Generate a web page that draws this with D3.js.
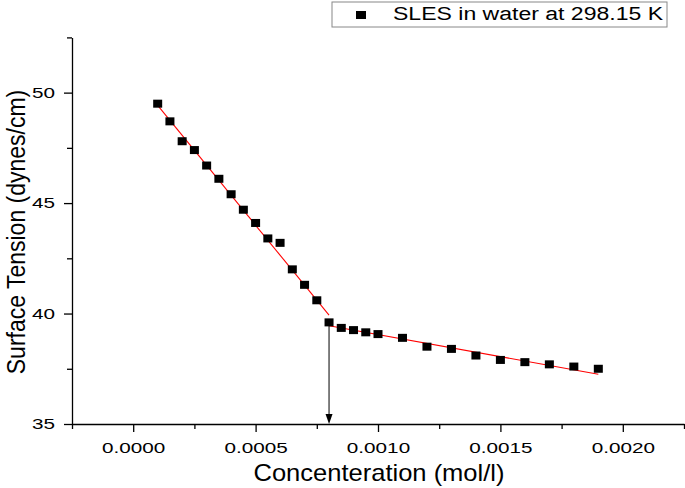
<!DOCTYPE html>
<html>
<head>
<meta charset="utf-8">
<script src="https://cdn.jsdelivr.net/npm/d3@7"></script>
<style>
  body { margin: 0; background: #fff; }
  text { font-family: "Liberation Sans", Arial, sans-serif; fill: #000; }
</style>
</head>
<body>
<div id="chart"></div>
<script>
// concentration (mol/l) and surface tension (dynes/cm)
var conc = [0.0001, 0.00015, 0.0002, 0.00025, 0.0003, 0.00035, 0.0004, 0.00045, 0.0005, 0.00055,
            0.0006, 0.00065, 0.0007, 0.00075, 0.0008, 0.00085, 0.0009, 0.00095, 0.001, 0.0011,
            0.0012, 0.0013, 0.0014, 0.0015, 0.0016, 0.0017, 0.0018, 0.0019];
var tension = [49.5, 48.7, 47.8, 47.4, 46.7, 46.1, 45.4, 44.7, 44.1, 43.4,
               43.2, 42.0, 41.3, 40.6, 39.6, 39.35, 39.25, 39.15, 39.07, 38.9,
               38.5, 38.4, 38.1, 37.9, 37.8, 37.7, 37.6, 37.5];

// the two red fit lines, end points
var fitBelowCmc = [[0.0001, 49.42], [0.0008, 39.93]];
var fitAboveCmc = [[0.0008, 39.45], [0.0019, 37.25]];
var cmc = 0.0008;

var xTicks = [0, 0.0005, 0.001, 0.0015, 0.002];
var xMinor = [-0.00025, 0.00025, 0.00075, 0.00125, 0.00175, 0.00225];
var yTicks = [35, 40, 45, 50];
var yMinor = [37.5, 42.5, 47.5, 52.5];

var seriesName = "SLES in water at 298.15 K";

var width = 685, height = 488;

var svg = d3.select("#chart").append("svg")
    .attr("width", width)
    .attr("height", height);

var x = d3.scaleLinear().domain([-0.00025, 0.00225]).range([72, 684]);
var y = d3.scaleLinear().domain([35, 52.5]).range([424, 37.4]);

var tickStretch = 1.38;

// minor ticks first
svg.append("g")
    .attr("transform", "translate(0," + y(35) + ")")
    .call(d3.axisBottom(x).tickValues(xMinor).tickSize(5).tickSizeOuter(0).tickFormat(""))
    .call(g => g.select(".domain").remove());

svg.append("g")
    .attr("transform", "translate(" + x(-0.00025) + ",0)")
    .call(d3.axisLeft(y).tickValues(yMinor).tickSize(5).tickSizeOuter(0).tickFormat(""))
    .call(g => g.select(".domain").remove());

var xAxis = svg.append("g")
    .attr("transform", "translate(0," + y(35) + ")")
    .call(d3.axisBottom(x).tickValues(xTicks).tickSize(8).tickSizeOuter(0)
        .tickPadding(10).tickFormat(d3.format(".4f")));
xAxis.selectAll("text")
    .attr("font-size", 15)
    .attr("font-family", "Liberation Sans, Arial, sans-serif")
    .attr("transform", "scale(" + tickStretch + ",1)");

var yAxis = svg.append("g")
    .attr("transform", "translate(" + x(-0.00025) + ",0)")
    .call(d3.axisLeft(y).tickValues(yTicks).tickSize(8).tickSizeOuter(0));
yAxis.selectAll("text")
    .attr("font-size", 15)
    .attr("font-family", "Liberation Sans, Arial, sans-serif")
    .attr("x", -17 / tickStretch)
    .attr("transform", "scale(" + tickStretch + ",1)");

svg.selectAll(".domain, .tick line").attr("stroke", "#000").attr("stroke-width", 1.3);

// axis titles
svg.append("text")
    .attr("transform", "translate(379,481) scale(1.11,1)")
    .attr("text-anchor", "middle")
    .attr("font-size", 23)
    .text("Concenteration (mol/l)");

svg.append("text")
    .attr("transform", "translate(25,232) scale(1.11,1) rotate(-90)")
    .attr("text-anchor", "middle")
    .attr("font-size", 23)
    .text("Surface Tension (dynes/cm)");

// fit lines
var line = d3.line().x(d => x(d[0])).y(d => y(d[1]));
[fitBelowCmc, fitAboveCmc].forEach(function(seg) {
    svg.append("path")
        .datum(seg)
        .attr("d", line)
        .attr("fill", "none")
        .attr("stroke", "#ff0000")
        .attr("stroke-width", 1.1);
});

// arrow down to the cmc
var ax = x(cmc);
svg.append("line")
    .attr("x1", ax).attr("x2", ax)
    .attr("y1", y(fitAboveCmc[0][1])).attr("y2", y(35) - 9)
    .attr("stroke", "#000").attr("stroke-width", 1);
svg.append("path")
    .attr("d", "M" + (ax - 3.5) + "," + (y(35) - 10) + "L" + (ax + 3.5) + "," + (y(35) - 10) + "L" + ax + "," + y(35) + "Z")
    .attr("fill", "#000");

// data points
svg.selectAll(".pt")
    .data(conc.map((c, i) => [c, tension[i]]))
    .enter().append("rect")
    .attr("class", "pt")
    .attr("x", d => x(d[0]) - 4.5)
    .attr("y", d => y(d[1]) - 4)
    .attr("width", 9)
    .attr("height", 8)
    .attr("fill", "#000");

// legend
var legend = svg.append("g");
legend.append("rect")
    .attr("x", 332).attr("y", 2)
    .attr("width", 335).attr("height", 25)
    .attr("fill", "#fff")
    .attr("stroke", "#888")
    .attr("stroke-width", 1);
legend.append("rect")
    .attr("x", 356).attr("y", 11)
    .attr("width", 10).attr("height", 8)
    .attr("fill", "#000");
legend.append("text")
    .attr("transform", "translate(393,20) scale(1.28,1)")
    .attr("font-size", 18)
    .text(seriesName);
</script>
</body>
</html>
